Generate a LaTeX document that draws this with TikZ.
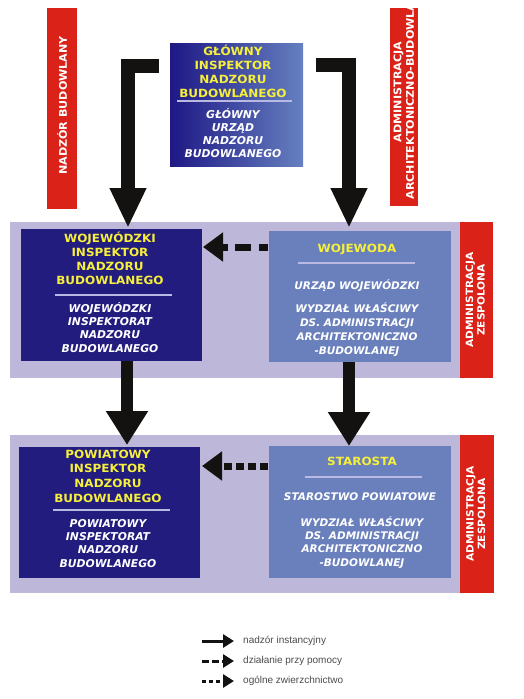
\documentclass[tikz,border=0pt]{standalone}
\usepackage{fontspec}
\setmainfont{DejaVu Sans}
\newfontfamily\boxfont{DejaVu Sans}[FakeStretch=1.06]
\newfontfamily\legfont{Liberation Sans}
\usetikzlibrary{arrows.meta,calc}
\definecolor{navy}{HTML}{221C7E}
\definecolor{midblue}{HTML}{6A80BC}
\definecolor{bandc}{HTML}{BDB8D9}
\definecolor{redbar}{HTML}{DA2218}
\definecolor{yel}{HTML}{F6F03C}
\definecolor{divl}{HTML}{B9B9E3}
\definecolor{gradL}{HTML}{1E1885}
\definecolor{gradR}{HTML}{6680C0}
\definecolor{arr}{HTML}{141210}
\newcommand{\blk}[1]{\begin{tabular}[t]{@{}c@{}}#1\end{tabular}}
\begin{document}
\begin{tikzpicture}[x=1pt,y=-1pt,
 rect/.style={inner sep=0pt, outer sep=0pt, anchor=north west, draw=none},
 ytx/.style={inner sep=0pt, anchor=base, text=yel, font=\boxfont\bfseries\fontsize{11.3}{14.2}\selectfont},
 wtx/.style={inner sep=0pt, anchor=base, text=white, font=\bfseries\itshape\fontsize{10.8}{13.4}\selectfont},
 rtx/.style={inner sep=0pt, text=white, rotate=90, font=\boxfont\bfseries\fontsize{10.5}{12.5}\selectfont},
 divider/.style={draw=divl, line width=1.5pt},
 bigarrow/.style={draw=arr, line width=14pt, line join=miter, -{Triangle[length=40pt,width=34pt]}},
 midarrow/.style={draw=arr, line width=12pt, -{Triangle[length=34pt,width=40pt]}},
 sidearrow/.style={draw=arr, line width=7pt, -{Triangle[length=20pt,width=28pt]}},
 legarrow/.style={draw=arr, line width=3pt, -{Triangle[length=11pt,width=13pt]}},
 legtx/.style={inner sep=0pt, anchor=west, text=black!70, font=\legfont\fontsize{10}{11}\selectfont},
]
\useasboundingbox[fill=white] (0,0) rectangle (523,699);

% red side bars (top)
\node[rect, fill=redbar, minimum width=30pt, minimum height=201pt] (lb) at (47,8) {};
\node[rtx] (lbt) at ($(lb.center)+(0,-3)$) {NADZÓR BUDOWLANY};
\node[rect, fill=redbar, minimum width=28pt, minimum height=198pt] (rb) at (390,8) {};
\begin{scope}
\clip (rb.south west) rectangle (rb.north east);
\node[rtx] (rbt) at (405,92) {\blk{ADMINISTRACJA\\ARCHITEKTONICZNO-BUDOWLANA}};
\end{scope}

% top box
\node[rect, left color=gradL, right color=gradR, minimum width=133pt, minimum height=123pt] (top) at (170,43) {};
\node[ytx] (topy) at (233,55) {\blk{GŁÓWNY\\INSPEKTOR\\NADZORU\\BUDOWLANEGO}};
\draw[divider] ($(top.north west)+(7,58)$) -- ($(top.north west)+(122,58)$);
\node[wtx, font=\bfseries\itshape\fontsize{10.8}{13}\selectfont] (topw) at (233,118) {\blk{GŁÓWNY\\URZĄD\\NADZORU\\BUDOWLANEGO}};

% band 1
\node[rect, fill=bandc, minimum width=450pt, minimum height=156pt] (b1) at (10,222) {};
\node[rect, fill=redbar, minimum width=33pt, minimum height=156pt] (r1) at (460,222) {};
\node[rtx, font=\boxfont\bfseries\fontsize{10}{11.5}\selectfont] (r1t) at (r1.center) {\blk{ADMINISTRACJA\\ZESPOLONA}};
\node[rect, fill=navy, minimum width=181pt, minimum height=132pt] (wl) at (21,229) {};
\node[ytx] (wly) at (110,242) {\blk{WOJEWÓDZKI\\INSPEKTOR\\NADZORU\\BUDOWLANEGO}};
\draw[divider] ($(wl.north west)+(34,66)$) -- ($(wl.north west)+(151,66)$);
\node[wtx] (wlw) at (110,312) {\blk{WOJEWÓDZKI\\INSPEKTORAT\\NADZORU\\BUDOWLANEGO}};
\node[rect, fill=midblue, minimum width=182pt, minimum height=131pt] (wr) at (269,231) {};
\node[ytx] (wry) at (357,252) {WOJEWODA};
\draw[divider] ($(wr.north west)+(29,32)$) -- ($(wr.north west)+(146,32)$);
\node[wtx, font=\bfseries\itshape\fontsize{10.5}{13.4}\selectfont] (wrw1) at (357,289) {URZĄD WOJEWÓDZKI};
\node[wtx, font=\bfseries\itshape\fontsize{10.5}{14}\selectfont] (wrw2) at (357,312) {\blk{WYDZIAŁ WŁAŚCIWY\\DS. ADMINISTRACJI\\ARCHITEKTONICZNO\\-BUDOWLANEJ}};

% band 2
\node[rect, fill=bandc, minimum width=450pt, minimum height=158pt] (b2) at (10,435) {};
\node[rect, fill=redbar, minimum width=34pt, minimum height=158pt] (r2) at (460,435) {};
\node[rtx, font=\boxfont\bfseries\fontsize{10}{11.5}\selectfont] (r2t) at (r2.center) {\blk{ADMINISTRACJA\\ZESPOLONA}};
\node[rect, fill=navy, minimum width=181pt, minimum height=131pt] (pl) at (19,447) {};
\node[ytx, font=\boxfont\bfseries\fontsize{11.3}{14.7}\selectfont] (ply) at (108,458) {\blk{POWIATOWY\\INSPEKTOR\\NADZORU\\BUDOWLANEGO}};
\draw[divider] ($(pl.north west)+(34,63)$) -- ($(pl.north west)+(151,63)$);
\node[wtx] (plw) at (108,527) {\blk{POWIATOWY\\INSPEKTORAT\\NADZORU\\BUDOWLANEGO}};
\node[rect, fill=midblue, minimum width=182pt, minimum height=132pt] (pr) at (269,446) {};
\node[ytx] (pry) at (362,465) {STAROSTA};
\draw[divider] ($(pr.north west)+(36,31)$) -- ($(pr.north west)+(153,31)$);
\node[wtx, font=\bfseries\itshape\fontsize{10.5}{13.4}\selectfont] (prw1) at (360,500) {STAROSTWO POWIATOWE};
\node[wtx, font=\bfseries\itshape\fontsize{10.5}{13.4}\selectfont] (prw2) at (362,526) {\blk{WYDZIAŁ WŁAŚCIWY\\DS. ADMINISTRACJI\\ARCHITEKTONICZNO\\-BUDOWLANEJ}};

% arrows from top
\coordinate (gl) at (159,66);
\coordinate (gr) at (316,65);
\draw[bigarrow] (gl) -| ($(wl.north west)+(107,-1)$);
\draw[bigarrow] (gr) -| ($(wr.north west)+(80,-3)$);

% arrows between bands
\draw[midarrow] ($(wl.south west)+(106,0)$) -- ($(pl.north west)+(108,-2)$);
\draw[midarrow] ($(wr.south west)+(80,0)$) -- ($(pr.north west)+(80,0)$);

% side arrows
\draw[sidearrow, dash pattern=on 9pt off 8pt on 16pt off 7pt on 20pt off 1pt] ($(wr.north west)+(-1,16)$) -- ($(wl.north east)+(1,18)$);
\draw[sidearrow, dash pattern=on 8pt off 4pt] ($(pr.north west)+(-1,20)$) -- ($(pl.north east)+(2,19)$);

% legend
\coordinate (l1s) at (202,641); \coordinate (l1e) at (234,641);
\coordinate (l2s) at (202,661); \coordinate (l2e) at (234,661);
\coordinate (l3s) at (202,681); \coordinate (l3e) at (234,681);
\draw[legarrow] (l1s) -- (l1e);
\draw[legarrow, dash pattern=on 7pt off 3pt] (l2s) -- (l2e);
\draw[legarrow, dash pattern=on 4pt off 3pt] (l3s) -- (l3e);
\node[legtx] (lt1) at (243,641) {nadzór instancyjny};
\node[legtx] (lt2) at (243,661) {działanie przy pomocy};
\node[legtx] (lt3) at (243,681) {ogólne zwierzchnictwo};
\end{tikzpicture}
\end{document}
